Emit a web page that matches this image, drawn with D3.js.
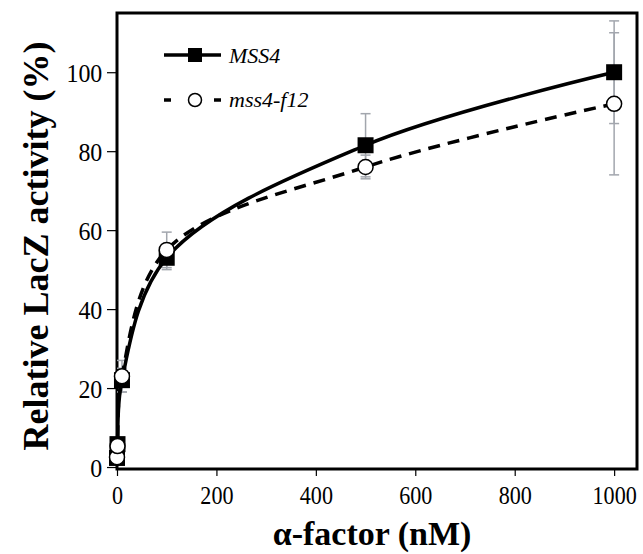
<!DOCTYPE html>
<html>
<head>
<meta charset="utf-8">
<script src="https://cdn.jsdelivr.net/npm/d3@7"></script>
<style>
  body { margin: 0; background: #fff; }
  svg text { font-family: "Liberation Serif", "Times New Roman", serif; }
</style>
</head>
<body>
<svg id="chart" width="643" height="554"></svg>
<script>
// alpha-factor concentrations (nM)
const doses = [0, 1, 10, 100, 500, 1000];
// relative LacZ activity (%)
const mss4 = [2.3, 5.8, 22, 53, 81.5, 100];
const mss4Err = [0.5, 0.5, 3, 3, 8, 13];
const f12 = [2.5, 5.3, 23, 55, 76, 92];
const f12Err = [0.5, 0.5, 4, 4.5, 3, 18];
const xTicks = [0, 200, 400, 600, 800, 1000];
const yTicks = [0, 20, 40, 60, 80, 100];

const svg = d3.select('#chart');

const x = d3.scaleLinear().domain([0, 1046]).range([117, 637]);
const y = d3.scaleLinear().domain([-0.5, 115]).range([469, 13]);

// y axis ticks + labels (outside, left)
const yAxis = svg.append('g')
  .attr('transform', 'translate(117,0)')
  .call(d3.axisLeft(y).tickValues(yTicks).tickFormat(d3.format('d')).tickSizeInner(10).tickSizeOuter(0).tickPadding(6));
yAxis.select('.domain').remove();
yAxis.selectAll('line').attr('stroke', '#000').attr('stroke-width', 1.2);
yAxis.selectAll('text')
  .attr('fill', '#000')
  .attr('font-size', 26)
  .attr('dy', '0.36em')
  .attr('transform', 'scale(0.92,1)');

// x axis ticks (outside, below) + labels
const xAxis = svg.append('g')
  .attr('transform', 'translate(0,469)')
  .call(d3.axisBottom(x).tickValues(xTicks).tickFormat(d3.format('d')).tickSizeInner(7).tickSizeOuter(0).tickPadding(10));
xAxis.select('.domain').remove();
xAxis.selectAll('line').attr('stroke', '#000').attr('stroke-width', 1.2);
xAxis.selectAll('text')
  .attr('fill', '#000')
  .attr('font-size', 26)
  .attr('transform', 'scale(0.85,1)');

// frame
svg.append('rect')
  .attr('x', 117).attr('y', 13)
  .attr('width', 637 - 117).attr('height', 469 - 13)
  .attr('fill', 'none')
  .attr('stroke', '#000')
  .attr('stroke-width', 3);

// error bars
function errorBars(vals, errs) {
  const g = svg.append('g').attr('stroke', '#a2a6ad').attr('stroke-width', 1.5);
  doses.forEach((d, i) => {
    const cx = x(d), y1 = y(vals[i] + errs[i]), y2 = y(vals[i] - errs[i]);
    g.append('line').attr('x1', cx).attr('x2', cx).attr('y1', y1).attr('y2', y2);
    g.append('line').attr('x1', cx - 5).attr('x2', cx + 5).attr('y1', y1).attr('y2', y1);
    g.append('line').attr('x1', cx - 5).attr('x2', cx + 5).attr('y1', y2).attr('y2', y2);
  });
}
errorBars(mss4, mss4Err);
errorBars(f12, f12Err);

const line = d3.line()
  .x((d, i) => x(doses[i]))
  .y(d => y(d))
  .curve(d3.curveCatmullRom.alpha(0.5));

svg.append('path')
  .datum(f12)
  .attr('fill', 'none')
  .attr('stroke', '#000')
  .attr('stroke-width', 3.5)
  .attr('stroke-dasharray', '12,8')
  .attr('d', line);

svg.append('path')
  .datum(mss4)
  .attr('fill', 'none')
  .attr('stroke', '#000')
  .attr('stroke-width', 3.5)
  .attr('d', line);

// markers
svg.selectAll('rect.sq')
  .data(mss4)
  .enter()
  .append('rect')
  .attr('class', 'sq')
  .attr('x', (d, i) => x(doses[i]) - 8)
  .attr('y', d => y(d) - 8)
  .attr('width', 16)
  .attr('height', 16)
  .attr('fill', '#000');

svg.selectAll('circle.ci')
  .data(f12)
  .enter()
  .append('circle')
  .attr('class', 'ci')
  .attr('cx', (d, i) => x(doses[i]))
  .attr('cy', d => y(d))
  .attr('r', 7.5)
  .attr('fill', '#fff')
  .attr('stroke', '#000')
  .attr('stroke-width', 1.5);

// legend
const lg = svg.append('g');
lg.append('line').attr('x1', 164).attr('x2', 221).attr('y1', 55).attr('y2', 55)
  .attr('stroke', '#000').attr('stroke-width', 3.5);
lg.append('rect').attr('x', 188).attr('y', 48).attr('width', 14).attr('height', 14).attr('fill', '#000');
lg.append('text').attr('x', 229).attr('y', 63).attr('font-size', 22).attr('font-style', 'italic').text('MSS4');

lg.append('line').attr('x1', 164).attr('x2', 171).attr('y1', 100).attr('y2', 100)
  .attr('stroke', '#000').attr('stroke-width', 3.5);
lg.append('line').attr('x1', 214).attr('x2', 221).attr('y1', 100).attr('y2', 100)
  .attr('stroke', '#000').attr('stroke-width', 3.5);
lg.append('circle').attr('cx', 195).attr('cy', 100).attr('r', 6.5)
  .attr('fill', '#fff').attr('stroke', '#000').attr('stroke-width', 1.5);
lg.append('text').attr('x', 229).attr('y', 107).attr('font-size', 22).attr('font-style', 'italic').text('mss4-f12');

// axis titles
svg.append('text')
  .attr('x', 372).attr('y', 545)
  .attr('text-anchor', 'middle')
  .attr('font-size', 34)
  .attr('font-weight', 'bold')
  .text('α-factor (nM)');

svg.append('text')
  .attr('transform', 'translate(48,246) rotate(-90)')
  .attr('text-anchor', 'middle')
  .attr('font-size', 36)
  .attr('font-weight', 'bold')
  .text('Relative LacZ activity (%)');
</script>
</body>
</html>
